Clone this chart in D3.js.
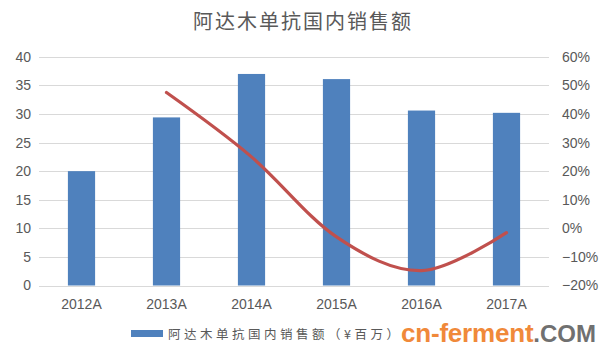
<!DOCTYPE html>
<html><head><meta charset="utf-8">
<script src="https://cdn.jsdelivr.net/npm/d3@7"></script>
<style>body{margin:0;background:#fff}svg{display:block}</style>
</head><body>
<svg id="c" width="606" height="356"></svg>
<script>
const categories = ["2012A","2013A","2014A","2015A","2016A","2017A"];
const sales = [20, 29.4, 37, 36.1, 30.6, 30.2];
const growth = [null, 0.475, 0.25, -0.03, -0.148, -0.015];
const leftTicks = [0,5,10,15,20,25,30,35,40];
const rightTicks = [-0.2,-0.1,0,0.1,0.2,0.3,0.4,0.5,0.6];
const title = "阿达木单抗国内销售额";
const barLegend = "阿达木单抗国内销售额（¥百万）";

const svg = d3.select("#c");
const x = d3.scaleBand().domain(categories).range([39,549]).paddingInner(0.68).paddingOuter(0.34);
const yL = d3.scaleLinear().domain([0,40]).range([285.5,56.8]);
const yR = d3.scaleLinear().domain([-0.2,0.6]).range([285.5,56.8]);
const txt = "#595959";

svg.append("text").attr("x",303).attr("y",29).attr("text-anchor","middle")
  .attr("font-family","'Noto Sans CJK SC'").attr("font-size",20).attr("fill",txt)
  .attr("letter-spacing",2).text(title);

svg.append("g").selectAll("line").data(leftTicks).join("line")
  .attr("x1",39).attr("x2",549).attr("y1",d=>Math.round(yL(d))+0.5).attr("y2",d=>Math.round(yL(d))+0.5)
  .attr("stroke","#d9d9d9").attr("stroke-width",1);

const gl = svg.append("g").attr("transform","translate(31,0)")
  .call(d3.axisLeft(yL).tickValues(leftTicks).tickSize(0).tickPadding(0));
gl.select(".domain").remove();
gl.selectAll("text").attr("font-family","'Liberation Sans',Arial").attr("font-size",14).attr("fill",txt);

const gr = svg.append("g").attr("transform","translate(562,0)")
  .call(d3.axisRight(yR).tickValues(rightTicks).tickSize(0).tickPadding(0).tickFormat(d3.format(".0%")));
gr.select(".domain").remove();
gr.selectAll("text").attr("font-family","'Liberation Sans',Arial").attr("font-size",14).attr("fill",txt);

const gx = svg.append("g").attr("transform","translate(0,296)")
  .call(d3.axisBottom(x).tickSize(0).tickPadding(3));
gx.select(".domain").remove();
gx.selectAll("text").attr("font-family","'Liberation Sans',Arial").attr("font-size",14).attr("fill",txt);

svg.append("g").selectAll("rect").data(sales).join("rect")
  .attr("x",(d,i)=>x(categories[i])).attr("width",x.bandwidth())
  .attr("y",d=>yL(d)).attr("height",d=>yL(0)-yL(d)).attr("fill","#4F81BD");

const pts = growth.map((g,i)=>[x(categories[i])+x.bandwidth()/2, g]).filter(p=>p[1]!==null);
svg.append("path").datum(pts)
  .attr("d", d3.line().x(p=>p[0]).y(p=>yR(p[1])).curve(d3.curveCardinal.tension(0)))
  .attr("fill","none").attr("stroke","#C0504D").attr("stroke-width",3.2).attr("stroke-linecap","round");

svg.append("rect").attr("x",131).attr("y",330).attr("width",32).attr("height",7).attr("fill","#4F81BD");
svg.append("text").attr("x",168).attr("y",339).attr("font-family","'Noto Sans CJK SC'")
  .attr("font-size",12.5).attr("letter-spacing",3.5).attr("fill",txt).text(barLegend);

const wm = svg.append("text").attr("x",401).attr("y",342).attr("font-family","'Liberation Sans',Arial")
  .attr("font-weight","bold").attr("font-size",26);
wm.append("tspan").attr("fill","#F0893A").attr("letter-spacing",-0.2).text("cn-ferment");
wm.append("tspan").attr("fill","#707070").attr("font-size",24).text(".COM");
</script>
</body></html>
